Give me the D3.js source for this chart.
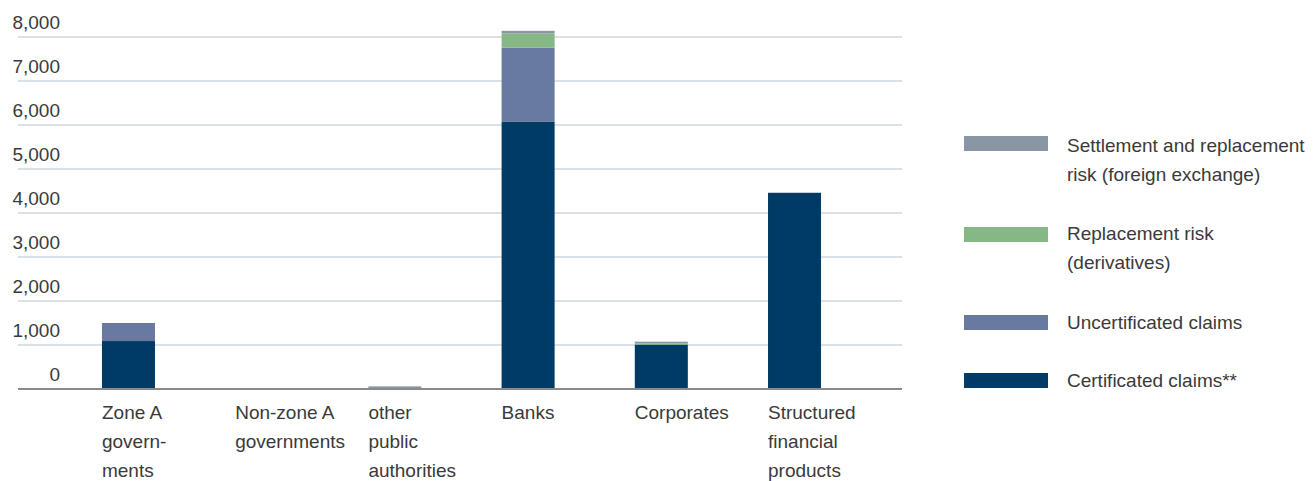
<!DOCTYPE html>
<html>
<head>
<meta charset="utf-8">
<script src="https://cdn.jsdelivr.net/npm/d3@7"></script>
<style>
  html, body { margin: 0; padding: 0; background: #ffffff; }
  svg { display: block; }
  text { font-family: "Liberation Sans", Arial, sans-serif; fill: #3a3a3a; }
</style>
</head>
<body>
<svg id="chart" width="1314" height="481"></svg>
<script>
// Category labels (line-broken as printed)
const categories = ["Zone A governments", "Non-zone A governments", "other public authorities",
                    "Banks", "Corporates", "Structured financial products"];
const categoryLines = [
  ["Zone A", "govern-", "ments"],
  ["Non-zone A", "governments"],
  ["other", "public", "authorities"],
  ["Banks"],
  ["Corporates"],
  ["Structured", "financial", "products"]
];

// Series values (stack order bottom to top)
const certificated   = [1090, 0, 0,  6070, 1010, 4460];
const uncertificated = [410,  0, 0,  1690, 0,    0];
const replacement    = [0,    0, 0,  320,  25,   0];
const settlement     = [0,    0, 60, 60,   40,   0];

const seriesKeys = ["certificated", "uncertificated", "replacement", "settlement"];
const seriesLabels = {
  settlement: ["Settlement and replacement", "risk (foreign exchange)"],
  replacement: ["Replacement risk", "(derivatives)"],
  uncertificated: ["Uncertificated claims"],
  certificated: ["Certificated claims**"]
};
const colors = {
  certificated: "#003b65",
  uncertificated: "#687a9f",
  replacement: "#86b886",
  settlement: "#8996a3"
};

const yTicks = [0, 1000, 2000, 3000, 4000, 5000, 6000, 7000, 8000];

const rows = categories.map((c, i) => ({
  category: c,
  certificated: certificated[i],
  uncertificated: uncertificated[i],
  replacement: replacement[i],
  settlement: settlement[i]
}));

const svg = d3.select("#chart");

const x = d3.scaleBand()
  .domain(categories)
  .range([62, 861])
  .paddingInner(0.602)
  .paddingOuter(0.3);

const y = d3.scaleLinear()
  .domain([0, 8000])
  .range([389, 37]);

const gridLeft = 18, gridRight = 902;

// Horizontal gridlines
svg.append("g")
  .selectAll("line")
  .data(yTicks.filter(d => d > 0))
  .join("line")
  .attr("x1", gridLeft)
  .attr("x2", gridRight)
  .attr("y1", d => y(d))
  .attr("y2", d => y(d))
  .attr("stroke", "#cfd8df")
  .attr("stroke-width", 1.6);

// Y tick labels, sitting above their gridlines
const yAxis = d3.axisLeft(y)
  .tickValues(yTicks)
  .tickFormat(d3.format(","))
  .tickSize(0)
  .tickPadding(0);
const yg = svg.append("g")
  .attr("transform", "translate(60,0)")
  .call(yAxis);
yg.select(".domain").remove();
yg.selectAll("text")
  .attr("dy", "-9px")
  .style("font-family", "\"Liberation Sans\", Arial, sans-serif")
  .style("font-size", "19px")
  .style("fill", "#3a3a3a");

// Stacked bars
const stack = d3.stack().keys(seriesKeys);
const stacked = stack(rows);

svg.append("g")
  .selectAll("g")
  .data(stacked)
  .join("g")
  .attr("fill", d => colors[d.key])
  .selectAll("rect")
  .data(d => d)
  .join("rect")
  .attr("x", d => x(d.data.category))
  .attr("width", x.bandwidth())
  .attr("y", d => y(d[1]))
  .attr("height", d => y(d[0]) - y(d[1]));

// Baseline
svg.append("line")
  .attr("x1", gridLeft)
  .attr("x2", gridRight)
  .attr("y1", y(0))
  .attr("y2", y(0))
  .attr("stroke", "#8a8a8a")
  .attr("stroke-width", 2);

// Category labels, left-aligned with each bar
const catG = svg.append("g");
categories.forEach((c, i) => {
  const t = catG.append("text")
    .style("font-size", "19px");
  categoryLines[i].forEach((line, j) => {
    t.append("tspan")
      .attr("x", x(c))
      .attr("y", 419 + j * 29)
      .text(line);
  });
});

// Legend
const legendOrder = ["settlement", "replacement", "uncertificated", "certificated"];
const legendTops = [136, 227, 315, 373];
const legendBaselines = [152, 240, 329, 387];
const legend = svg.append("g");
legendOrder.forEach((k, i) => {
  legend.append("rect")
    .attr("x", 964)
    .attr("y", legendTops[i])
    .attr("width", 84)
    .attr("height", 15)
    .attr("fill", colors[k]);
  const t = legend.append("text").style("font-size", "19px");
  seriesLabels[k].forEach((line, j) => {
    t.append("tspan")
      .attr("x", 1067)
      .attr("y", legendBaselines[i] + j * 29)
      .text(line);
  });
});
</script>
</body>
</html>
